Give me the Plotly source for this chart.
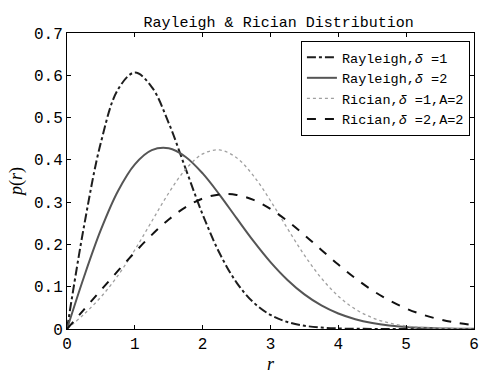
import plotly.graph_objects as go

r = [0, 0.25, 0.5, 0.75, 1.0, 1.25, 1.5, 1.75, 2.0, 2.25, 2.5, 2.75, 3.0,
     3.25, 3.5, 3.75, 4.0, 4.25, 4.5, 4.75, 5.0, 5.25, 5.5, 5.75, 6.0]

rayleigh_1 = [0, 0.2423, 0.4412, 0.5661, 0.6065, 0.5722, 0.4870, 0.3785, 0.2707,
              0.1790, 0.1098, 0.0627, 0.0333, 0.0165, 0.0077, 0.0033, 0.0013,
              0.0005, 0.0002, 0.0001, 0, 0, 0, 0, 0]
rayleigh_2 = [0, 0.1231, 0.2348, 0.3258, 0.3894, 0.4229, 0.4273, 0.4069, 0.3679,
              0.3173, 0.2620, 0.2076, 0.1581, 0.1159, 0.0818, 0.0557, 0.0366,
              0.0232, 0.0142, 0.0084, 0.0048, 0.0027, 0.0014, 0.0007, 0.0004]
rician_1 = [0, 0.0349, 0.0756, 0.1262, 0.1871, 0.2548, 0.3217, 0.3779, 0.4140,
            0.4234, 0.4049, 0.3621, 0.3033, 0.2376, 0.1745, 0.1203, 0.0776,
            0.0470, 0.0267, 0.0142, 0.0071, 0.0033, 0.0015, 0.0006, 0.0002]
rician_2 = [0, 0.0460, 0.0919, 0.1373, 0.1814, 0.2226, 0.2589, 0.2882, 0.3085,
            0.3183, 0.3171, 0.3052, 0.2839, 0.2554, 0.2222, 0.1870, 0.1523,
            0.1201, 0.0916, 0.0676, 0.0484, 0.0335, 0.0225, 0.0146, 0.0092]

names = ["Rayleigh,<i>δ</i> =1", "Rayleigh,<i>δ</i> =2",
         "Rician,<i>δ</i> =1,A=2", "Rician,<i>δ</i> =2,A=2"]
series = [rayleigh_1, rayleigh_2, rician_1, rician_2]
styles = [dict(color="#1e1e1e", width=2, dash="dashdot"),
          dict(color="#555555", width=2, dash="solid"),
          dict(color="#a0a0a0", width=1.3, dash="dot"),
          dict(color="#111111", width=2, dash="dash")]

mono = "Liberation Mono"
fig = go.Figure()
for name, ys, st in zip(names, series, styles):
    fig.add_trace(go.Scatter(x=r, y=ys, mode="lines", name=name,
                             line=dict(shape="spline", smoothing=1.0, **st)))

axis_common = dict(showline=True, linecolor="black", linewidth=1, mirror="ticks",
                   ticks="inside", ticklen=4, tickcolor="black", showgrid=False,
                   zeroline=False, ticklabeloverflow="allow", automargin=False,
                   tickfont=dict(family=mono, size=16, color="black"))

fig.update_layout(
    width=480, height=375,
    margin=dict(l=67, r=6, t=33, b=46, autoexpand=False),
    paper_bgcolor="white", plot_bgcolor="white",
    title=dict(text="Rayleigh & Rician Distribution", x=0.52, xref="paper",
               xanchor="center", y=0.955, yref="container",
               font=dict(family=mono, size=15, color="black")),
    xaxis=dict(range=[0, 6], tickvals=[0, 1, 2, 3, 4, 5, 6],
               title=dict(text="<i>r</i>", standoff=0,
                          font=dict(family="Liberation Serif", size=18, color="black")),
               **axis_common),
    yaxis=dict(range=[0, 0.7], tickvals=[0, 0.1, 0.2, 0.3, 0.4, 0.5, 0.6, 0.7],
               ticktext=["0", "0.1", "0.2", "0.3", "0.4", "0.5", "0.6", "0.7"],
               title=dict(text="<i>p</i>(<i>r</i>)", standoff=6,
                          font=dict(family="Liberation Serif", size=18, color="black")),
               **axis_common),
    legend=dict(x=0.99, y=0.973, xanchor="right", yanchor="top",
                bgcolor="white", bordercolor="black", borderwidth=1,
                font=dict(family=mono, size=13.5, color="black"),
                tracegroupgap=0, itemwidth=30),
    showlegend=True,
)

fig.write_html("out.html")
